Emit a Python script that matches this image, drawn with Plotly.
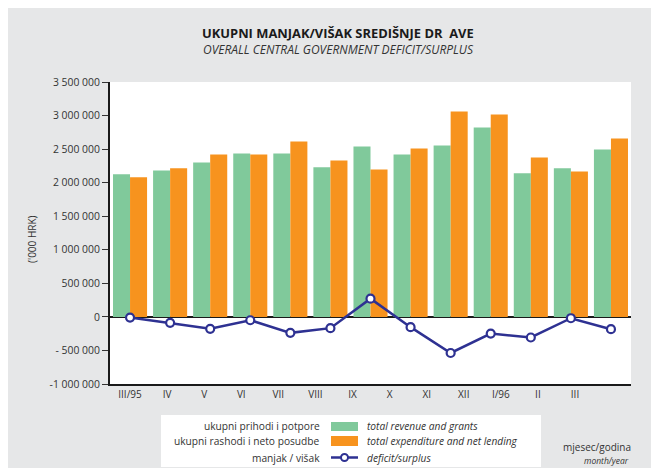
import plotly.graph_objects as go

months = ["III/95", "IV", "V", "VI", "VII", "VIII", "IX", "X", "XI", "XII", "I/96", "II", "III"]
revenue = [2124, 2183, 2302, 2436, 2436, 2228, 2540, 2421, 2554, 2822, 2139, 2213, 2495]
expenditure = [2079, 2213, 2421, 2421, 2614, 2332, 2198, 2510, 3059, 3015, 2376, 2168, 2658]
deficit = [-10, -89, -178, -50, -238, -168, 272, -153, -538, -248, -307, -20, -183]
revenue = [v * 1000 for v in revenue]
expenditure = [v * 1000 for v in expenditure]
deficit = [v * 1000 for v in deficit]

ytick_vals = [3500000, 3000000, 2500000, 2000000, 1500000, 1000000, 500000, 0, -500000, -1000000]
ytick_text = ["3 500 000", "3 000 000", "2 500 000", "2 000 000", "1 500 000", "1 000 000",
              "500 000", "0", "- 500 000", "-1 000 000"]

title_hr = "UKUPNI MANJAK/VIŠAK SREDIŠNJE DR\u00a0\u00a0AVE"
title_en = "OVERALL CENTRAL GOVERNMENT DEFICIT/SURPLUS"
leg_hr = ["ukupni prihodi i potpore", "ukupni rashodi i neto posudbe", "manjak / višak"]
leg_en = ["total revenue and grants", "total expenditure and net lending", "deficit/surplus"]

GREEN = "#80c99b"
ORANGE = "#f7931e"
NAVY = "#2e3192"
BG = "#e6e7e8"
FONT = "Open Sans"
TXT = "#333333"

# page has an 8px body margin; coordinates below are measured on screen
OFF = 8
W, H = 659 - OFF, 468 - OFF
L, R, T, B = 110 - OFF, 659 - 631, 82 - OFF, 468 - 384
PW, PH = W - L - R, H - T - B


def px(x):
    return (x - OFF - L) / PW


def py(y):
    return 1 - (y - OFF - T) / PH


fig = go.Figure()
fig.add_trace(go.Bar(x=months, y=revenue, marker=dict(color=GREEN, line=dict(width=0)), name=leg_en[0]))
fig.add_trace(go.Bar(x=months, y=expenditure, marker=dict(color=ORANGE, line=dict(width=0)), name=leg_en[1]))
fig.add_trace(go.Scatter(x=months, y=deficit, mode="lines+markers", name=leg_en[2],
                         line=dict(color=NAVY, width=2.5),
                         marker=dict(symbol="circle", size=8, color="white",
                                     line=dict(color=NAVY, width=2.2))))
# helper axis carrying the month labels (label spacing of the original differs slightly from the bars)
fig.add_trace(go.Scatter(x=[], y=[], xaxis="x2", showlegend=False, hoverinfo="skip"))

shapes = [
    # legend box
    dict(type="rect", xref="paper", yref="paper", x0=px(161), x1=px(541), y0=py(467), y1=py(415),
         fillcolor="white", line=dict(width=0), layer="below"),
    dict(type="rect", xref="paper", yref="paper", x0=px(331), x1=px(358), y0=py(431), y1=py(422),
         fillcolor=GREEN, line=dict(width=0)),
    dict(type="rect", xref="paper", yref="paper", x0=px(331), x1=px(358), y0=py(446), y1=py(436),
         fillcolor=ORANGE, line=dict(width=0)),
    dict(type="line", xref="paper", yref="paper", x0=px(331), x1=px(358), y0=py(457.5), y1=py(457.5),
         line=dict(color=NAVY, width=2.5)),
    dict(type="circle", xref="paper", yref="paper", x0=px(341), x1=px(348), y0=py(461), y1=py(454),
         fillcolor="white", line=dict(color=NAVY, width=2)),
]

annotations = [
    dict(text="<b>" + title_hr + "</b>", x=px(338), y=py(33), xref="paper", yref="paper",
         showarrow=False, font=dict(family=FONT, size=12.9, color="#1a1a1a"), xanchor="center", yanchor="middle"),
    dict(text="<i>" + title_en + "</i>", x=px(338), y=py(50), xref="paper", yref="paper",
         showarrow=False, font=dict(family=FONT, size=12, color="#333333"), xanchor="center", yanchor="middle"),
    dict(text="('000 HRK)", x=px(32), y=py(239), xref="paper", yref="paper", textangle=-90,
         showarrow=False, font=dict(family=FONT, size=10, color=TXT), xanchor="center", yanchor="middle"),
    dict(text="mjesec/godina", x=px(597), y=py(447), xref="paper", yref="paper",
         showarrow=False, font=dict(family=FONT, size=10, color=TXT), xanchor="center", yanchor="middle"),
    dict(text="<i>month/year</i>", x=px(631), y=py(460), xref="paper", yref="paper",
         showarrow=False, font=dict(family=FONT, size=8.5, color=TXT), xanchor="right", yanchor="middle"),
]
for yy, th, te in zip([425.5, 441, 457.5], leg_hr, leg_en):
    annotations.append(dict(text=th, x=px(322), y=py(yy), xref="paper", yref="paper", showarrow=False,
                            font=dict(family=FONT, size=10.2, color=TXT), xanchor="right", yanchor="middle"))
    annotations.append(dict(text="<i>" + te + "</i>", x=px(365), y=py(yy), xref="paper", yref="paper",
                            showarrow=False, font=dict(family=FONT, size=10.2, color=TXT),
                            xanchor="left", yanchor="middle"))

# label axis: positions 130 px (first) to 575 px (last) on screen
step = (575 - 130) / 12
x2_lo = -(130 - 110) / step
x2_hi = x2_lo + PW / step

fig.update_layout(
    width=W, height=H,
    margin=dict(l=L, r=R, t=T, b=B, pad=0),
    paper_bgcolor=BG, plot_bgcolor="white",
    barmode="group", bargap=0.15, bargroupgap=0,
    showlegend=False,
    font=dict(family=FONT, size=10, color=TXT),
    xaxis=dict(type="category", showticklabels=False, ticks="", showgrid=False,
               showline=True, linecolor="#1a1a1a", linewidth=2, mirror=False,
               range=[-0.5, 12.5]),
    xaxis2=dict(overlaying="x", anchor="y", side="bottom", range=[x2_lo, x2_hi],
                tickmode="array", tickvals=list(range(len(months))), ticktext=months,
                showgrid=False, zeroline=False, showline=False, ticks="",
                ticklabelstandoff=3, tickfont=dict(family=FONT, size=10, color=TXT)),
    yaxis=dict(range=[-1000000, 3500000], tickmode="array", tickvals=ytick_vals, ticktext=ytick_text,
               showgrid=False, zeroline=True, zerolinecolor="#1a1a1a", zerolinewidth=2,
               showline=True, linecolor="#1a1a1a", linewidth=2,
               ticks="outside", ticklen=6, tickwidth=1, tickcolor="#333333",
               tickfont=dict(family=FONT, size=10.4, color=TXT)),
    shapes=shapes,
    annotations=annotations,
)

fig.write_html("out.html")
